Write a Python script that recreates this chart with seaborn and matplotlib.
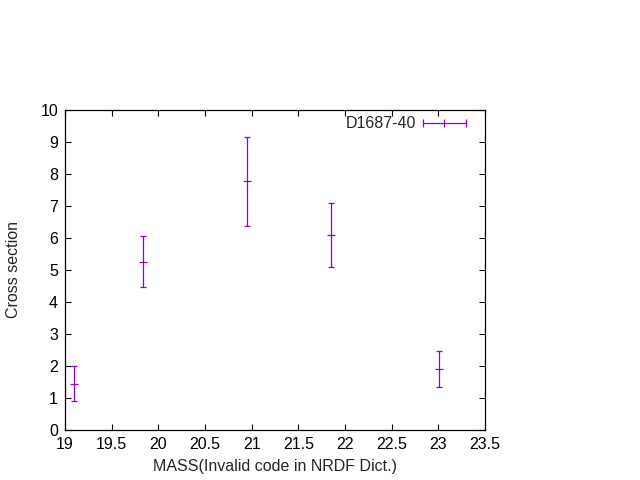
import numpy as np
import pandas as pd
import matplotlib
matplotlib.use("Agg")
import matplotlib.pyplot as plt
import seaborn as sns

# values
mass = [19.10, 19.84, 20.95, 21.85, 23.01]
xsec = [1.43, 5.24, 7.77, 6.08, 1.90]
err_low = [0.53, 0.78, 1.40, 0.99, 0.57]
err_high = [0.57, 0.82, 1.38, 1.00, 0.56]
label = "D1687-40"

purple = "#9400d3"

sns.set_theme(style="ticks")
plt.rcParams["font.family"] = ["Liberation Sans", "DejaVu Sans"]

df = pd.DataFrame({"mass": mass, "xsec": xsec})

fig = plt.figure(figsize=(6.4, 4.8), dpi=100)
ax = fig.add_axes([65 / 640, 50 / 480, 420 / 640, 320 / 480])

ax.errorbar(df["mass"], df["xsec"], yerr=[err_low, err_high], fmt="none",
            ecolor=purple, elinewidth=0.9, capsize=2, capthick=0.9)
sns.scatterplot(data=df, x="mass", y="xsec", marker="_", s=40, color=purple,
                linewidth=0.9, ax=ax, legend=False)

ax.set_xlim(19, 23.5)
ax.set_ylim(0, 10)
ax.set_xticks(np.arange(19, 23.51, 0.5))
ax.set_xticklabels(["19", "19.5", "20", "20.5", "21", "21.5", "22", "22.5", "23", "23.5"])
ax.set_yticks(range(0, 11))
ax.tick_params(direction="in", length=4, width=0.8, top=True, right=True,
               labelsize=11.5, colors="black", pad=5)
for s in ax.spines.values():
    s.set_visible(True)
    s.set_linewidth(0.9)
    s.set_color("black")

ax.set_xlabel("MASS(Invalid code in NRDF Dict.)", fontsize=11.5, labelpad=5)
ax.set_ylabel("Cross section", fontsize=11.5, labelpad=14)

handle = plt.Line2D([], [], color=purple, marker="|", markersize=6,
                    linewidth=0.9, markeredgewidth=0.9)
ax.legend([handle], [label], loc="upper right", frameon=False, numpoints=3,
          markerfirst=False, handlelength=3.3, handletextpad=0.15,
          fontsize=11.5, borderaxespad=0.3,
          bbox_to_anchor=(1 - 3 / 420, 1 + 5 / 320))

fig.savefig("out.png", dpi=100)
